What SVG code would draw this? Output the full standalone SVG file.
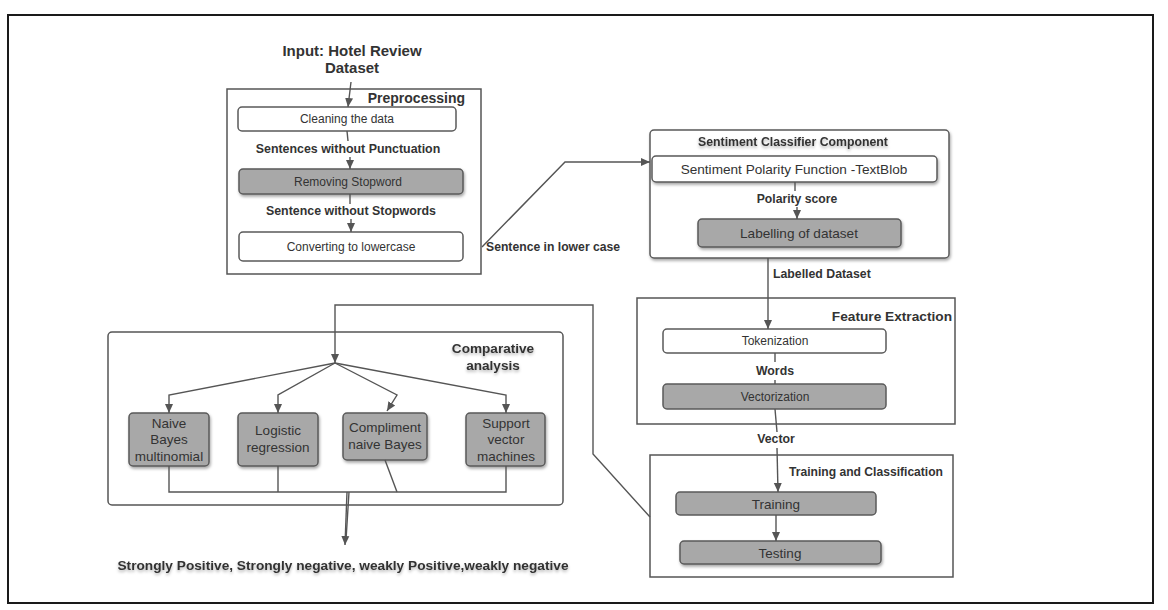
<svg xmlns="http://www.w3.org/2000/svg" width="1168" height="610" viewBox="0 0 1168 610">
<defs>
<marker id="arr" markerUnits="userSpaceOnUse" markerWidth="10" markerHeight="10" refX="9" refY="5" orient="auto">
<path d="M0,1 L9,5 L0,9 z" fill="#555"/>
</marker>
<filter id="sh" x="-10%" y="-20%" width="120%" height="150%">
<feDropShadow dx="1" dy="2" stdDeviation="1.5" flood-color="#000" flood-opacity="0.35"/>
</filter>
<filter id="tsh" x="-5%" y="-30%" width="110%" height="180%">
<feDropShadow dx="0" dy="2" stdDeviation="1.5" flood-color="#000" flood-opacity="0.3"/>
</filter>
</defs>
<style>
.frame{fill:none;stroke:#555;stroke-width:1.5}
.w{fill:#fff;stroke:#5a5a5a;stroke-width:1.5}
.g{fill:#a8a8a8;stroke:#5a5a5a;stroke-width:1.5}
.c{fill:none;stroke:#555;stroke-width:1.4}
.t{font-family:"Liberation Sans",Arial,sans-serif;fill:#333;text-anchor:middle}
.b{font-family:"Liberation Sans",Arial,sans-serif;fill:#333;font-weight:bold;text-anchor:middle}
</style>
<rect width="1168" height="610" fill="#fff"/>
<rect x="8" y="15" width="1145" height="588" fill="none" stroke="#1a1a1a" stroke-width="2"/>

<g id="input">
<text class="b" x="352" y="56" font-size="15">Input: Hotel Review</text>
<text class="b" x="352" y="73" font-size="15">Dataset</text>
</g>

<g id="preprocessing">
<rect class="frame" x="227" y="89" width="254" height="185"/>
<text class="b" x="465" y="103" font-size="14" style="text-anchor:end">Preprocessing</text>
</g>
<g id="cleaning">
<rect class="w" x="238" y="107" width="218" height="24" rx="4"/>
<text class="t" x="347" y="123" font-size="12">Cleaning the data</text>
</g>
<g id="removing">
<rect class="g" x="239" y="169" width="224" height="25" rx="4" filter="url(#sh)"/>
<text class="t" x="348" y="186" font-size="12">Removing Stopword</text>
</g>
<g id="converting">
<rect class="w" x="239" y="232" width="224" height="29" rx="4"/>
<text class="t" x="351" y="251" font-size="12">Converting to lowercase</text>
</g>

<g id="sentiment">
<rect class="w" x="650" y="130" width="299" height="128" rx="4" filter="url(#sh)"/>
<text class="b" x="793" y="146" font-size="12.3" filter="url(#tsh)">Sentiment Classifier Component</text>
</g>
<g id="polarity">
<rect class="w" x="652" y="156" width="285" height="26" rx="4" filter="url(#sh)"/>
<text class="t" x="794" y="174" font-size="13.6">Sentiment Polarity Function -TextBlob</text>
</g>
<g id="labelling">
<rect class="g" x="698" y="219" width="203" height="28" rx="4" filter="url(#sh)"/>
<text class="t" x="799" y="238" font-size="13.6">Labelling of dataset</text>
</g>

<g id="feature">
<rect class="frame" x="637" y="298" width="318" height="126"/>
<text class="b" x="952" y="321" font-size="13.7" style="text-anchor:end">Feature Extraction</text>
</g>
<g id="tokenization">
<rect class="w" x="663" y="329" width="223" height="24" rx="4"/>
<text class="t" x="775" y="345" font-size="12">Tokenization</text>
</g>
<g id="vectorization">
<rect class="g" x="663" y="384" width="223" height="25" rx="4"/>
<text class="t" x="775" y="401" font-size="12">Vectorization</text>
</g>

<g id="training-classification">
<rect class="frame" x="650" y="455" width="303" height="122"/>
<text class="b" x="943" y="476" font-size="12.1" style="text-anchor:end">Training and Classification</text>
</g>
<g id="training">
<rect class="g" x="676" y="492" width="200" height="23" rx="4"/>
<text class="t" x="776" y="509" font-size="13.5">Training</text>
</g>
<g id="testing">
<rect class="g" x="680" y="541" width="201" height="23" rx="4" filter="url(#sh)"/>
<text class="t" x="780" y="558" font-size="13.5">Testing</text>
</g>

<g id="comparative">
<rect class="frame" x="108" y="332" width="455" height="173" rx="4"/>
<text class="b" x="493" y="353" font-size="13.6" filter="url(#tsh)">Comparative</text>
<text class="b" x="493" y="370" font-size="13.6" filter="url(#tsh)">analysis</text>
</g>
<g id="nb">
<rect class="g" x="129" y="413" width="80" height="53" rx="4" filter="url(#sh)"/>
<text class="t" x="169" y="428" font-size="13.5">Naive</text>
<text class="t" x="169" y="444" font-size="13.5">Bayes</text>
<text class="t" x="169" y="461" font-size="13.5">multinomial</text>
</g>
<g id="lr">
<rect class="g" x="238" y="413" width="80" height="53" rx="4" filter="url(#sh)"/>
<text class="t" x="278" y="435" font-size="13.5">Logistic</text>
<text class="t" x="278" y="452" font-size="13.5">regression</text>
</g>
<g id="cnb">
<rect class="g" x="343" y="413" width="84" height="47" rx="4" filter="url(#sh)"/>
<text class="t" x="385" y="432" font-size="13.5">Compliment</text>
<text class="t" x="385" y="449" font-size="13.5">naive Bayes</text>
</g>
<g id="svm">
<rect class="g" x="466" y="413" width="79" height="53" rx="4" filter="url(#sh)"/>
<text class="t" x="506" y="428" font-size="13.5">Support</text>
<text class="t" x="506" y="444" font-size="13.5">vector</text>
<text class="t" x="506" y="461" font-size="13.5">machines</text>
</g>

<g id="output">
<text class="b" x="343" y="570" font-size="13.7" filter="url(#tsh)">Strongly Positive, Strongly negative, weakly Positive,weakly negative</text>
</g>

<g id="connectors">
<line class="c" x1="351" y1="82" x2="348" y2="107" marker-end="url(#arr)"/>
<line class="c" x1="347" y1="131" x2="348" y2="141"/>
<text class="b" x="348" y="153" font-size="12.4">Sentences without Punctuation</text>
<line class="c" x1="350" y1="157" x2="350" y2="169" marker-end="url(#arr)"/>
<line class="c" x1="350" y1="194" x2="350" y2="204"/>
<text class="b" x="351" y="215" font-size="12.4">Sentence without Stopwords</text>
<line class="c" x1="351" y1="219" x2="351" y2="232" marker-end="url(#arr)"/>

<polyline class="c" points="482,247 565,162 650,162" marker-end="url(#arr)"/>
<text class="b" x="486" y="251" font-size="12.2" style="text-anchor:start">Sentence in lower case</text>

<line class="c" x1="795" y1="182" x2="795" y2="191"/>
<text class="b" x="797" y="203" font-size="12.2">Polarity score</text>
<line class="c" x1="797" y1="207" x2="797" y2="219" marker-end="url(#arr)"/>

<line class="c" x1="768" y1="258" x2="768" y2="329" marker-end="url(#arr)"/>
<text class="b" x="773" y="278" font-size="12.3" style="text-anchor:start">Labelled Dataset</text>

<line class="c" x1="775" y1="353" x2="775" y2="362"/>
<text class="b" x="775" y="375" font-size="12.3">Words</text>
<line class="c" x1="775" y1="380" x2="775" y2="384"/>

<line class="c" x1="775" y1="409" x2="777" y2="432"/>
<text class="b" x="776" y="443" font-size="12.3">Vector</text>
<line class="c" x1="777" y1="448" x2="778" y2="492" marker-end="url(#arr)"/>

<line class="c" x1="776" y1="515" x2="776" y2="541" marker-end="url(#arr)"/>

<polyline class="c" points="650,517 593,454 593,305 335,305 335,363" marker-end="url(#arr)"/>
<polyline class="c" points="335,363 169,395 169,413" marker-end="url(#arr)"/>
<polyline class="c" points="335,363 278,395 278,413" marker-end="url(#arr)"/>
<polyline class="c" points="335,363 397,395 387,411" marker-end="url(#arr)"/>
<polyline class="c" points="335,363 506,395 506,413" marker-end="url(#arr)"/>

<polyline class="c" points="169,466 169,492 506,492 506,466"/>
<line class="c" x1="278" y1="466" x2="278" y2="492"/>
<line class="c" x1="385" y1="460" x2="397" y2="492"/>
<line class="c" x1="347" y1="492" x2="345" y2="545" marker-end="url(#arr)"/>
<line class="c" x1="349" y1="492" x2="346" y2="540"/>
</g>
</svg>
